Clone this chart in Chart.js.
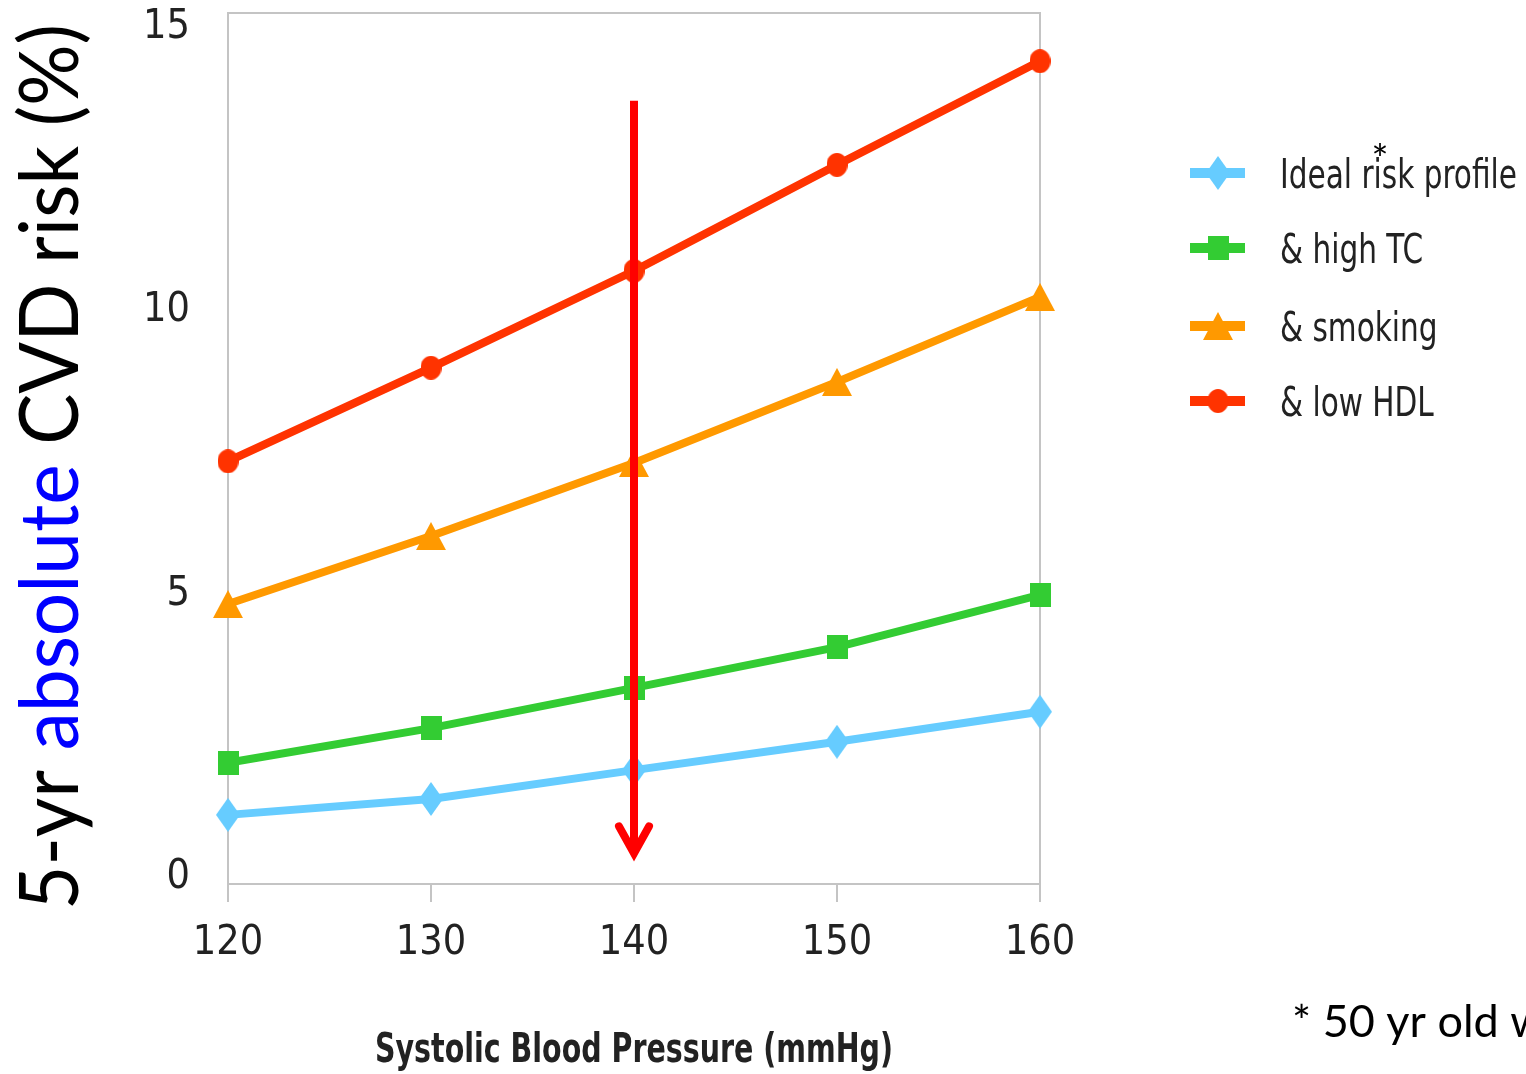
<!DOCTYPE html>
<html><head><meta charset="utf-8">
<script src="https://cdn.jsdelivr.net/npm/chart.js@4.4.1/dist/chart.umd.min.js"></script>
<style>html,body{margin:0;padding:0;background:#fff;overflow:hidden}#wrap{position:relative;width:1526px;height:1074px}canvas{display:block}</style>
</head><body><div id="wrap"><canvas id="c" width="1526" height="1074" style="width:1526px;height:1074px"></canvas></div>
<script>
const categories = ['120', '130', '140', '150', '160'];
const seriesNames = ['Ideal risk profile', '& high TC', '& smoking', '& low HDL'];
const idealRisk = [1.10, 1.38, 1.89, 2.39, 2.92];
const highTC = [2.02, 2.63, 3.34, 4.06, 4.98];
const smoking = [4.82, 6.02, 7.31, 8.74, 10.24];
const lowHDL = [7.34, 8.99, 10.70, 12.57, 14.40];
const yTicks = [0, 5, 10, 15];
const yTitleParts = [['5-yr ', '#000000'], ['absolute', '#0000FF'], [' CVD risk (%)', '#000000']];
const xTitle = 'Systolic Blood Pressure (mmHg)';
const footnote = '* 50 yr old w';
const arrowAt = '140', arrowFrom = 13.7, arrowTo = 0.35;

const colors = ['#66CCFF', '#33CC33', '#FF9900', '#FF3300'];
const NARROW = '"DejaVu Sans Condensed", "DejaVu Sans", sans-serif';
const HUMAN = 'Lato, "Open Sans", "Noto Sans", sans-serif';

function makeMarker(kind, w, h, color) {
  const c = document.createElement('canvas');
  c.width = w; c.height = h;
  const g = c.getContext('2d');
  g.fillStyle = color;
  g.beginPath();
  if (kind === 'diamond') {
    g.moveTo(w / 2, 0); g.lineTo(w, h / 2); g.lineTo(w / 2, h); g.lineTo(0, h / 2);
  } else if (kind === 'square') {
    g.rect(0, 0, w, h);
  } else if (kind === 'triangle') {
    g.moveTo(w / 2, 0); g.lineTo(w, h); g.lineTo(0, h);
  } else {
    g.ellipse(w / 2, h / 2, w / 2, h / 2, 0, 0, Math.PI * 2);
  }
  g.closePath();
  g.fill();
  return c;
}
const markers = [
  makeMarker('diamond', 24, 34, colors[0]),
  makeMarker('square', 21, 24, colors[1]),
  makeMarker('triangle', 30, 28, colors[2]),
  makeMarker('circle', 21, 24, colors[3])
];
const seriesData = [idealRisk, highTC, smoking, lowHDL];

const datasets = seriesData.map((d, i) => ({
  label: seriesNames[i],
  data: d,
  borderColor: colors[i],
  backgroundColor: colors[i],
  borderWidth: 8,
  borderJoinStyle: 'round',
  borderCapStyle: 'round',
  tension: 0,
  pointStyle: markers[i],
  pointRadius: 12,
  clip: false,
  fill: false
}));

function scaledText(ctx, text, x, y, targetWidth, align) {
  const w = ctx.measureText(text).width;
  const sx = targetWidth / w;
  ctx.save();
  ctx.translate(x, y);
  ctx.scale(sx, 1);
  ctx.textAlign = 'left';
  const start = align === 'center' ? -w / 2 : 0;
  ctx.fillText(text, start, 0);
  ctx.restore();
  return sx;
}

const decorPlugin = {
  id: 'decor',
  beforeDatasetsDraw(chart) {
    const a = chart.chartArea, ctx = chart.ctx;
    ctx.save();
    ctx.strokeStyle = '#c4c4c4';
    ctx.lineWidth = 2;
    ctx.strokeRect(a.left, a.top, a.right - a.left, a.bottom - a.top);
    ctx.restore();
  },
  afterDatasetsDraw(chart) {
    const ctx = chart.ctx, xs = chart.scales.x, ys = chart.scales.y;
    const x = xs.getPixelForValue(categories.indexOf(arrowAt));
    const y0 = ys.getPixelForValue(arrowFrom), y1 = ys.getPixelForValue(arrowTo);
    ctx.save();
    ctx.strokeStyle = '#FF0000';
    ctx.lineWidth = 8;
    ctx.lineCap = 'butt';
    ctx.beginPath(); ctx.moveTo(x, y0); ctx.lineTo(x, y1 - 4); ctx.stroke();
    ctx.lineCap = 'round'; ctx.lineJoin = 'miter';
    ctx.beginPath();
    ctx.moveTo(x - 15, y1 - 31); ctx.lineTo(x, y1 - 4); ctx.lineTo(x + 15, y1 - 31);
    ctx.stroke();
    ctx.restore();
  },
  afterDraw(chart) {
    const ctx = chart.ctx, a = chart.chartArea;
    ctx.save();
    // legend
    const rows = [173, 248, 326, 401];
    ctx.font = '40px ' + NARROW;
    const capH = ctx.measureText('H').actualBoundingBoxAscent;
    const legScale = 237 / ctx.measureText(seriesNames[0]).width;
    chart.data.datasets.forEach((ds, i) => {
      const y = rows[i];
      ctx.strokeStyle = ds.borderColor;
      ctx.lineWidth = 10;
      ctx.lineCap = 'butt';
      ctx.beginPath(); ctx.moveTo(1190, y); ctx.lineTo(1245, y); ctx.stroke();
      const m = ds.pointStyle;
      ctx.drawImage(m, 1218 - m.width / 2, y - m.height / 2);
      ctx.fillStyle = '#222222';
      ctx.textBaseline = 'alphabetic';
      const w = ctx.measureText(ds.label).width;
      scaledText(ctx, ds.label, 1280, y + capH / 2, w * legScale, 'left');
    });
    // asterisk
    ctx.font = '40px ' + HUMAN;
    const am = ctx.measureText('*');
    ctx.fillStyle = '#000';
    ctx.textAlign = 'center';
    ctx.fillText('*', 1380, 149 + (am.actualBoundingBoxAscent - am.actualBoundingBoxDescent) / 2);
    // x title
    ctx.font = 'bold 41px ' + NARROW;
    ctx.fillStyle = '#222222';
    ctx.textBaseline = 'alphabetic';
    scaledText(ctx, xTitle, (a.left + a.right) / 2, 1062, 518, 'center');
    // y title
    ctx.font = '81px ' + HUMAN;
    ctx.textAlign = 'left';
    ctx.textBaseline = 'alphabetic';
    const total = yTitleParts.reduce((s, p) => s + ctx.measureText(p[0]).width, 0);
    const sx = 886 / total;
    ctx.translate(78, 910);
    ctx.rotate(-Math.PI / 2);
    ctx.scale(sx, 1);
    let off = 0;
    yTitleParts.forEach(p => {
      ctx.fillStyle = p[1];
      ctx.fillText(p[0], off, 0);
      off += ctx.measureText(p[0]).width;
    });
    ctx.restore();
    // footnote
    ctx.save();
    ctx.font = '45px ' + HUMAN;
    ctx.fillStyle = '#000';
    ctx.textAlign = 'left';
    ctx.textBaseline = 'alphabetic';
    ctx.fillText(footnote, 1292, 1037);
    ctx.restore();
  }
};

new Chart(document.getElementById('c'), {
  type: 'line',
  data: { labels: categories, datasets },
  plugins: [decorPlugin],
  options: {
    responsive: false,
    devicePixelRatio: 1,
    animation: false,
    layout: { autoPadding: false, padding: { left: 0, top: 13, right: 486, bottom: 0 } },
    plugins: { legend: { display: false }, tooltip: { enabled: false } },
    scales: {
      x: {
        type: 'category',
        offset: false,
        grid: { display: true, drawOnChartArea: false, drawTicks: true, tickLength: 18, color: '#c4c4c4', lineWidth: 2 },
        border: { display: false },
        ticks: { font: { family: NARROW, size: 41 }, color: '#222', padding: 17, maxRotation: 0, autoSkip: false },
        title: { display: false },
        afterFit(s) { s.height = 190; s.paddingLeft = 0; s.paddingRight = 0; }
      },
      y: {
        type: 'linear',
        min: -0.12,
        max: 15.25,
        afterBuildTicks(s) { s.ticks = yTicks.map(v => ({ value: v })); },
        grid: { display: false, drawTicks: false },
        border: { display: false },
        ticks: { font: { family: NARROW, size: 41, lineHeight: 0.6 }, color: '#222', padding: 38 },
        afterFit(s) { s.width = 228; s.paddingTop = 0; s.paddingBottom = 0; }
      }
    }
  }
});
</script>
</body></html>
